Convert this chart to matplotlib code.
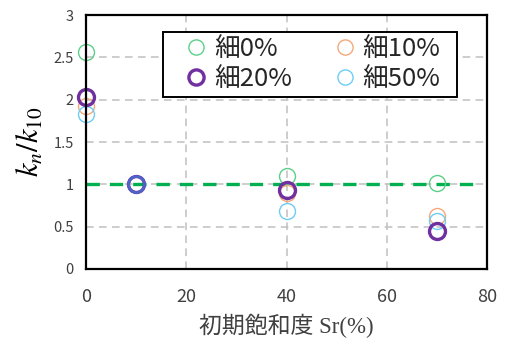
import matplotlib
matplotlib.use("Agg")
import matplotlib.pyplot as plt
from matplotlib.patches import Rectangle

plt.rcParams['mathtext.fontset'] = 'stix'

# Initial saturation Sr (%) and normalized stiffness k_n/k_10 per fines content
sr = [0, 10, 40, 70]
fines_0 = [2.56, 1.0, 1.10, 1.02]
fines_10 = [1.92, 1.0, 0.90, 0.63]
fines_20 = [2.03, 1.0, 0.93, 0.45]
fines_50 = [1.83, 1.0, 0.68, 0.57]
labels = ['細0%', '細10%', '細20%', '細50%']

x_ticks = [0, 20, 40, 60, 80]
y_ticks = [0, 0.5, 1, 1.5, 2, 2.5, 3]
y_ticklabels = ['0', '0.5', '1', '1.5', '2', '2.5', '3']
ref_level = 1.0

fig = plt.figure(figsize=(5.13, 3.43), dpi=100)
ax = fig.add_axes([0.168, 0.216, 0.781, 0.740])

ax.axhline(ref_level, xmin=0, xmax=78.3 / 80, color='#00b050', lw=2.4,
           ls=(0, (4, 3)), zorder=2)

cjk = ['Noto Sans CJK JP', 'DejaVu Sans']
styles = [
    (fines_0, '#5ccf8a', 1.0),
    (fines_10, '#f4a97a', 1.0),
    (fines_50, '#6dcdf5', 1.0),
    (fines_20, '#7030a0', 2.4),
]
handles = {}
for (vals, col, lw), lab in zip(styles, [labels[0], labels[1], labels[3], labels[2]]):
    h, = ax.plot(sr, vals, ls='none', marker='o', ms=11.5, mfc='none',
                 mec=col, mew=lw, zorder=4, clip_on=False, label=lab)
    handles[lab] = h

# common normalization point
ax.plot([sr[1]], [ref_level], ls='none', marker='o', ms=11.5, mfc='none',
        mec='#4f63c6', mew=2.0, zorder=5)

ax.set_xlim(0, 80)
ax.set_ylim(0, 3)
ax.set_xticks(x_ticks)
ax.set_yticks(y_ticks)
ax.set_yticklabels(y_ticklabels)
ax.tick_params(axis='both', length=0, colors='#404040')
ax.tick_params(axis='x', labelsize=13, pad=14)
ax.tick_params(axis='y', labelsize=10.5, pad=9)
for lbl in ax.get_xticklabels() + ax.get_yticklabels():
    lbl.set_family(cjk)

ax.grid(True, color='#c0c0c0', ls=(0, (5, 3.5)), lw=1.1, zorder=1)
ax.set_axisbelow(True)
for s in ax.spines.values():
    s.set_color('black')
    s.set_linewidth(1.6)
    s.set_zorder(6)

ax.set_xlabel('初期飽和度 Sr(%)', fontsize=16.5, color='#404040',
              family=['Liberation Serif', 'Noto Sans CJK JP'], labelpad=5)
ax.set_ylabel(r'$k_n/k_{10}$', fontsize=22, labelpad=6)

# legend box drawn as its own patch so the entries can sit left of its right edge
ax.add_patch(Rectangle((0.192, 0.677), 0.733, 0.256, transform=ax.transAxes,
                       facecolor='white', edgecolor='black', lw=1.4, zorder=7))

order = [labels[0], labels[2], labels[1], labels[3]]
leg = ax.legend([handles[k] for k in order], order, ncol=2,
                loc='upper left', bbox_to_anchor=(0.192, 0.933),
                borderaxespad=0.0,
                prop={'family': cjk, 'size': 18.5}, frameon=False,
                handletextpad=-0.45, columnspacing=0.95, borderpad=0.16,
                labelspacing=0.14, handlelength=2.26, markerscale=0.95)
leg.set_zorder(8)
for t in leg.get_texts():
    t.set_color('#262626')

fig.savefig('out.png', dpi=100)
